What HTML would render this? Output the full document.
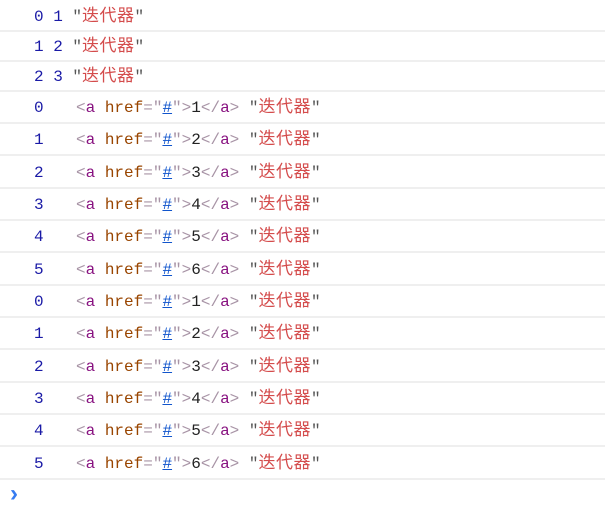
<!DOCTYPE html>
<html><head><meta charset="utf-8"><style>
body{margin:0;width:605px;height:509px;background:#fff;position:relative;overflow:hidden;font-family:"Liberation Mono","Noto Sans CJK SC",monospace;font-size:16px;}
.r{position:absolute;left:0;width:605px;height:20px;line-height:20px;white-space:pre;}
.s{position:absolute;left:0;width:605px;height:2px;background:#efefef;}
.n{color:#1a1aa6;position:absolute;left:34px;top:1px;height:20px;line-height:20px;}
.n2{color:#1a1aa6;position:absolute;left:34px;top:-1px;height:20px;line-height:20px;}
.e{position:absolute;left:76px;top:-2px;height:20px;line-height:20px;}
.q{color:#555}
.str{color:#d44c4c;font-family:"Noto Sans CJK SC",sans-serif;font-size:17px;line-height:20px;letter-spacing:0.5px;}
.t{color:#881280}.b{color:#a894a6}.at{color:#994500}.l{color:#1155cc;text-decoration:underline}.x{color:#222}
</style></head><body>
<div class="r" style="top:5px"><span class="n2">0 1 <span class="q">"</span><span class="str">迭代器</span><span class="q">"</span></span></div>
<div class="s" style="top:30px"></div>
<div class="r" style="top:35px"><span class="n2">1 2 <span class="q">"</span><span class="str">迭代器</span><span class="q">"</span></span></div>
<div class="s" style="top:60px"></div>
<div class="r" style="top:65px"><span class="n2">2 3 <span class="q">"</span><span class="str">迭代器</span><span class="q">"</span></span></div>
<div class="s" style="top:90px"></div>
<div id="rows"></div>
<div style="position:absolute;left:10px;top:480px;color:#367cf1;font-size:24px;line-height:28px;font-weight:bold;font-family:'Liberation Sans',sans-serif">›</div>
<script>
var h='';
for(var i=0;i<12;i++){
 var y=97+i*32.33;var k=i%6;
 h+='<div class="r" style="top:'+y.toFixed(1)+'px"><span class="n">'+k+'</span><span class="e"><span class="b">&lt;</span><span class="t">a</span> <span class="at">href</span><span class="b">="</span><span class="l">#</span><span class="b">"&gt;</span><span class="x">'+(k+1)+'</span><span class="b">&lt;/</span><span class="t">a</span><span class="b">&gt;</span> <span class="q">"</span><span class="str">迭代器</span><span class="q">"</span></span></div>';
 h+='<div class="s" style="top:'+(122+i*32.33).toFixed(1)+'px"></div>';
}
document.getElementById('rows').innerHTML=h;
</script>
</body></html>
